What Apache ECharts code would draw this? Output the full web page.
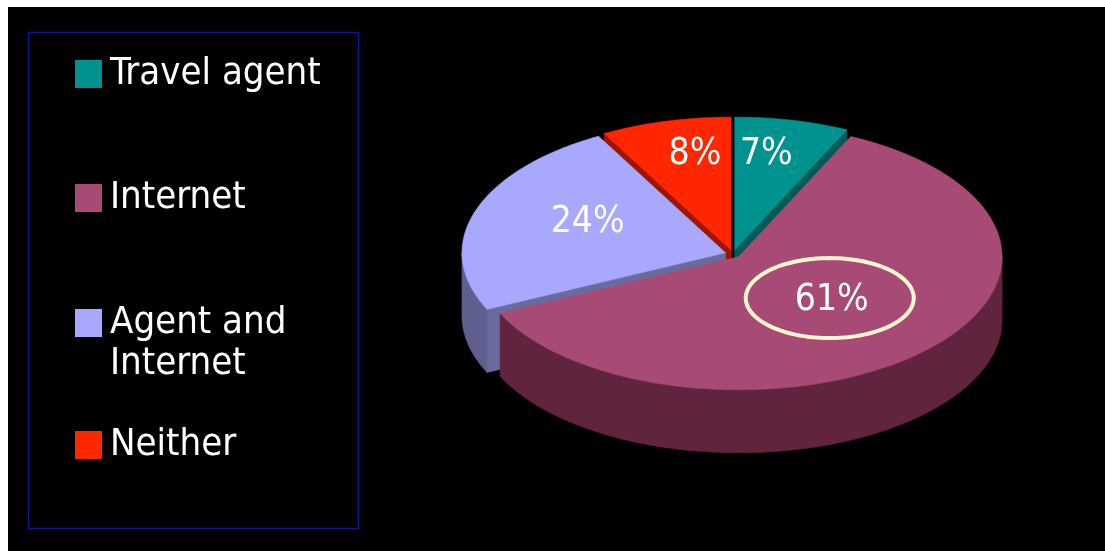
<!DOCTYPE html>
<html>
<head>
<meta charset="utf-8">
<script src="https://cdn.jsdelivr.net/npm/echarts@6/dist/echarts.min.js"></script>
<style>
  html, body { margin: 0; padding: 0; background: #ffffff; }
  #chart { width: 1105px; height: 551px; }
</style>
</head>
<body>
<div id="chart"></div>
<script>
// Booking channel shares
const categories = ['Travel agent', 'Internet', 'Agent and\nInternet', 'Neither'];
const shares = [7, 61, 24, 8];
const valueLabels = ['7%', '61%', '24%', '8%'];
const topColors = ['#00928e', '#a84a76', '#a8a8fe', '#ff2600'];
const wallColors = ['#005c59', '#61243f', '#5f5f8f', '#9a1400'];
const cutColors = ['#005a57', '#6b2a48', '#6a6a9c', '#9e1500'];

const FONT_FAMILY = '"DejaVu Sans Condensed", "Liberation Sans", sans-serif';

// Geometry of the tilted pie (top-face ellipse, thickness, explode fraction)
const PIE = { cx: 733, cy: 254, rx: 263.5, ry: 133, depth: 63, explode: 0.03 };

const total = shares.reduce((a, b) => a + b, 0);
const startAngles = [];
(function () {
  let acc = 0;
  shares.forEach(v => { startAngles.push(acc / total * 360); acc += v; });
})();
const maxIndex = shares.indexOf(Math.max(...shares));

function rad(d) { return d * Math.PI / 180; }

// draw order: slices farther back are painted first
const midAngles = shares.map((v, i) => startAngles[i] + v / total * 180);
const drawOrder = midAngles
  .map((m, i) => ({ i, back: Math.cos(rad(m)) }))
  .sort((a, b) => b.back - a.back)
  .map(o => o.i);

// label placement as fractions of the horizontal / vertical radius
function labelRadii(isMax) {
  return isMax ? [0.5, 0.46] : [0.55, 0.74];
}

function renderSlice(params, api) {
  const i = params.dataIndex;
  const v = api.value(0);
  const s = startAngles[i];
  const e = s + v / total * 360;
  const m = (s + e) / 2;
  const ox = PIE.explode * PIE.rx * Math.sin(rad(m));
  const oy = -PIE.explode * PIE.ry * Math.cos(rad(m));
  const pt = (a, r, dz) => [
    PIE.cx + ox + r * PIE.rx * Math.sin(rad(a)),
    PIE.cy + oy - r * PIE.ry * Math.cos(rad(a)) + (dz || 0)
  ];
  const arc = (a0, a1, dz) => {
    const n = Math.max(2, Math.ceil(Math.abs(a1 - a0)));
    const out = [];
    for (let k = 0; k <= n; k++) out.push(pt(a0 + (a1 - a0) * k / n, 1, dz));
    return out;
  };
  const h = PIE.depth;
  const base = drawOrder.indexOf(i) * 10;
  const children = [];
  const face = (points, color, z) => ({
    type: 'polygon',
    z2: base + z,
    shape: { points },
    style: { fill: color, stroke: color, lineWidth: 0.6 }
  });

  // outer wall, front half only
  const a0 = Math.max(s, 90), a1 = Math.min(e, 270);
  if (a1 > a0) {
    children.push(face(arc(a0, a1, 0).concat(arc(a1, a0, h)), wallColors[i], 1));
  }
  // radial cut faces that turn toward the viewer
  if (Math.cos(rad(s - 90)) < -1e-6) {
    children.push(face([pt(0, 0, 0), pt(s, 1, 0), pt(s, 1, h), pt(0, 0, h)], cutColors[i], 2));
  }
  if (Math.cos(rad(e + 90)) < -1e-6) {
    children.push(face([pt(0, 0, 0), pt(e, 1, 0), pt(e, 1, h), pt(0, 0, h)], cutColors[i], 2));
  }
  // top face
  children.push(face([pt(0, 0, 0)].concat(arc(s, e, 0)), topColors[i], 3));

  // value label
  const lr = labelRadii(i === maxIndex);
  const lx = PIE.cx + ox + lr[0] * PIE.rx * Math.sin(rad(m));
  const ly = PIE.cy + oy - lr[1] * PIE.ry * Math.cos(rad(m));
  children.push({
    type: 'text',
    z2: base + 5,
    x: lx,
    y: ly,
    style: {
      text: valueLabels[i],
      fill: '#ffffff',
      font: '37px ' + FONT_FAMILY,
      align: 'center',
      verticalAlign: 'middle'
    }
  });

  // ring drawn round the largest share
  if (i === maxIndex) {
    const ring = [];
    for (let k = 0; k < 120; k++) {
      const t = k / 120 * Math.PI * 2;
      ring.push([lx - 2 + 84 * Math.cos(t), ly - 2 + 40 * Math.sin(t)]);
    }
    children.push({
      type: 'polygon',
      z2: base + 4,
      shape: { points: ring },
      style: { fill: 'none', stroke: '#fff7cc', lineWidth: 4 }
    });
  }
  return { type: 'group', children };
}

// legend built as graphic rows
const legendRows = [74, 198, 323, 445];
const legendGraphics = [
  { type: 'rect', z: 0, shape: { x: 8, y: 7, width: 1097, height: 544 }, style: { fill: '#000000' } },
  { type: 'rect', z: 5, shape: { x: 28.5, y: 32.5, width: 330, height: 496 },
    style: { fill: 'none', stroke: '#07169a', lineWidth: 1.5 } }
];
categories.forEach((name, i) => {
  const cy = legendRows[i];
  legendGraphics.push({
    type: 'rect', z: 5,
    shape: { x: 75, y: cy - 14, width: 27, height: 28 },
    style: { fill: topColors[i] }
  });
  const multi = name.indexOf('\n') >= 0;
  legendGraphics.push({
    type: 'text', z: 5,
    x: 110,
    y: multi ? cy - 20.5 : cy,
    style: {
      text: name,
      fill: '#ffffff',
      font: '38px ' + FONT_FAMILY,
      lineHeight: 41,
      align: 'left',
      verticalAlign: multi ? 'top' : 'middle'
    }
  });
});

const chart = echarts.init(document.getElementById('chart'), null, { renderer: 'canvas' });
chart.setOption({
  backgroundColor: '#ffffff',
  animation: false,
  graphic: { elements: legendGraphics },
  series: [{
    type: 'custom',
    coordinateSystem: 'none',
    z: 3,
    renderItem: renderSlice,
    data: shares.map((v, i) => ({ name: categories[i], value: [v] }))
  }]
});
</script>
</body>
</html>
